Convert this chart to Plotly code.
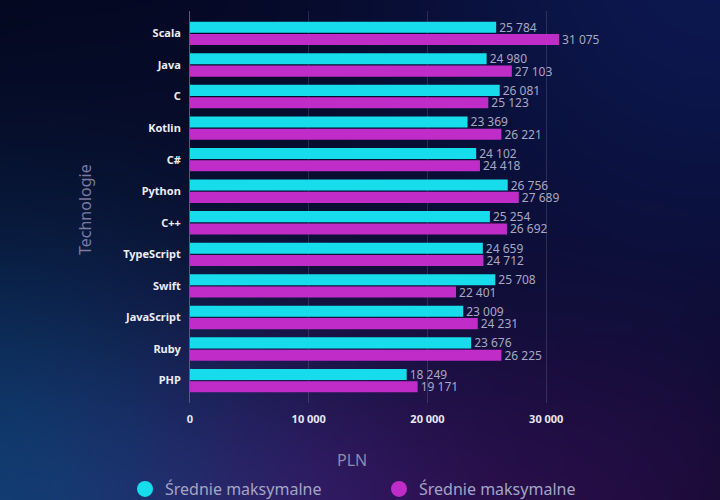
import numpy as np
import plotly.graph_objects as go

# ---- data ----
technologies = ["Scala", "Java", "C", "Kotlin", "C#", "Python", "C++",
                "TypeScript", "Swift", "JavaScript", "Ruby", "PHP"]
series_a_name = "Średnie maksymalne"
series_b_name = "Średnie maksymalne"
series_a = [25784, 24980, 26081, 23369, 24102, 26756, 25254, 24659, 25708, 23009, 23676, 18249]
series_b = [31075, 27103, 25123, 26221, 24418, 27689, 26692, 24712, 22401, 24231, 26225, 19171]
x_tickvals = [0, 10000, 20000, 30000]

W, H = 720, 500

# ---- background gradient image (style only) ----
step = 4
gx = np.arange(0, W, step) + step / 2
gy = np.arange(0, H, step) + step / 2
XX, YY = np.meshgrid(gx, gy)
base = np.array([4, 5, 28], dtype=float)
blobs = [
    ((720, -50), 380, (13, 24, 80)),
    ((-20, 520), 300, (14, 60, 110)),
    ((330, 540), 220, (44, 12, 74)),
    ((640, 520), 200, (28, 9, 52)),
]
img = np.zeros(XX.shape + (3,)) + base
for (cx, cy), r, col in blobs:
    w = np.exp(-(((XX - cx) ** 2 + (YY - cy) ** 2) / r ** 2))
    img += w[..., None] * (np.array(col, dtype=float) - base)
img = np.clip(img, 0, 255).astype(np.uint8)

fig = go.Figure()
fig.add_trace(go.Image(z=img, x0=step / 2, dx=step, y0=step / 2, dy=step,
                       zsmooth="fast", hoverinfo="skip", xaxis="x", yaxis="y"))

cyan = "#17dcec"
magenta = "#c02cc8"
label_font = dict(family="Noto Sans", size=12, color="#a8a8c2")

fig.add_trace(go.Bar(y=technologies, x=series_a, orientation="h", name=series_a_name,
                     marker=dict(color=cyan, line=dict(width=0)),
                     texttemplate="%{x:,d}", textposition="outside", cliponaxis=False,
                     constraintext="none",
                     textfont=label_font, showlegend=False, xaxis="x2", yaxis="y2"))
fig.add_trace(go.Bar(y=technologies, x=series_b, orientation="h", name=series_b_name,
                     marker=dict(color=magenta, line=dict(width=0)),
                     texttemplate="%{x:,d}", textposition="outside", cliponaxis=False,
                     constraintext="none",
                     textfont=label_font, showlegend=False, xaxis="x2", yaxis="y2"))

# legend entries as circles
fig.add_trace(go.Scatter(x=[None], y=[None], mode="markers", name=series_a_name,
                         marker=dict(symbol="circle", size=20, color=cyan),
                         xaxis="x2", yaxis="y2"))
fig.add_trace(go.Scatter(x=[None], y=[None], mode="markers", name=series_b_name,
                         marker=dict(symbol="circle", size=20, color=magenta),
                         xaxis="x2", yaxis="y2"))

n = len(technologies)
pad = 0.71
fig.update_layout(
    width=W, height=H,
    margin=dict(l=0, r=0, t=0, b=0, pad=0, autoexpand=False),
    paper_bgcolor="#05061e",
    plot_bgcolor="rgba(0,0,0,0)",
    separators=", ",
    font=dict(family="Noto Sans", color="#e6e6f0"),
    barmode="group",
    bargap=0.22,
    bargroupgap=0.1,
    xaxis=dict(domain=[0, 1], range=[0, W], visible=False, fixedrange=True),
    yaxis=dict(domain=[0, 1], range=[H, 0], visible=False, fixedrange=True),
    xaxis2=dict(domain=[190 / W, 570 / W], range=[0, 32000], anchor="y2",
                tickvals=x_tickvals, tickformat=",d",
                showgrid=True, gridcolor="rgba(255,255,255,0.13)", gridwidth=1,
                zeroline=False, showline=False, ticks="outside", ticklen=6,
                tickcolor="rgba(0,0,0,0)",
                tickfont=dict(family="Noto Sans", size=11, color="#e8e8f2", weight="bold")),
    yaxis2=dict(domain=[1 - 403 / H, 1 - 11 / H], anchor="x2",
                categoryorder="array", categoryarray=technologies,
                range=[n - 1 + pad, -pad],
                showline=True, linecolor="#5c5c78", linewidth=1,
                showgrid=False, zeroline=False, ticks="outside", ticklen=6,
                tickcolor="rgba(0,0,0,0)",
                tickfont=dict(family="Noto Sans", size=11, color="#ececf4", weight="bold")),
    legend=dict(orientation="h", x=125 / W, xanchor="left", y=1 - 489 / H, yanchor="middle",
                entrywidth=209, entrywidthmode="pixels",
                font=dict(family="Noto Sans", size=16, color="#a4a4c4"),
                bgcolor="rgba(0,0,0,0)", borderwidth=0, itemclick=False),
    annotations=[
        dict(text="Technologie", x=85 / W, y=1 - 210 / H, xref="paper", yref="paper",
             textangle=-90, showarrow=False, xanchor="center", yanchor="middle",
             font=dict(family="Noto Sans", size=16, color="#7a7aa2")),
        dict(text="PLN", x=352 / W, y=1 - 460 / H, xref="paper", yref="paper",
             showarrow=False, xanchor="center", yanchor="middle",
             font=dict(family="Noto Sans", size=16, color="#8a8aae")),
    ],
)

fig.write_html("out.html")
